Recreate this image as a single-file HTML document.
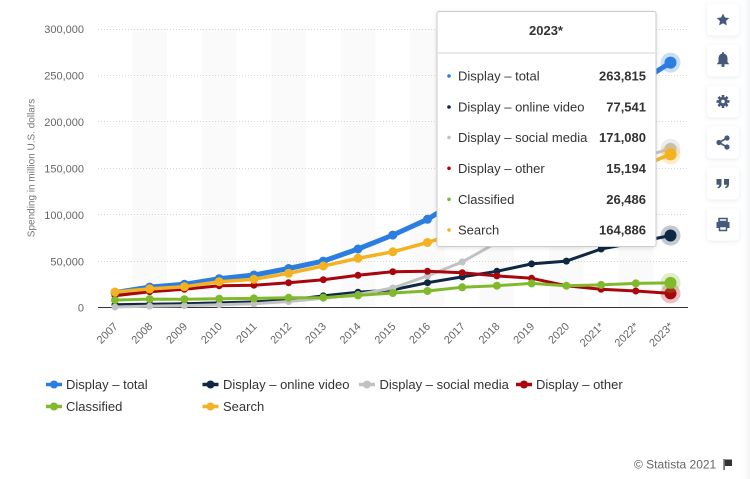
<!DOCTYPE html>
<html><head><meta charset="utf-8">
<style>
html,body{margin:0;padding:0;background:#fff;}
body{width:750px;height:479px;overflow:hidden;font-family:"Liberation Sans",sans-serif;}
svg{display:block;}
</style></head>
<body>
<svg width="750" height="479" viewBox="0 0 750 479" xmlns="http://www.w3.org/2000/svg" font-family="Liberation Sans, sans-serif">
<defs>
<linearGradient id="rg" x1="0" x2="1" y1="0" y2="0">
<stop offset="0" stop-color="#ffffff" stop-opacity="0"/>
<stop offset="1" stop-color="#f3f4f6"/>
</linearGradient>
<filter id="sh" x="-20%" y="-20%" width="140%" height="140%">
<feDropShadow dx="0" dy="1" stdDeviation="2" flood-color="#000" flood-opacity="0.12"/>
</filter>
<filter id="bsh" x="-30%" y="-30%" width="160%" height="160%">
<feDropShadow dx="0" dy="1" stdDeviation="2" flood-color="#5a6a85" flood-opacity="0.15"/>
</filter>
</defs>
<rect x="0" y="0" width="750" height="479" fill="#fff"/>
<rect x="740" y="0" width="10" height="479" fill="url(#rg)"/>

<!-- bands -->
<g fill="#fafafa">
<rect x="132.3" y="29" width="34.7" height="278.5"/>
<rect x="201.8" y="29" width="34.7" height="278.5"/>
<rect x="271.2" y="29" width="34.7" height="278.5"/>
<rect x="340.7" y="29" width="34.7" height="278.5"/>
<rect x="410.1" y="29" width="34.7" height="278.5"/>
<rect x="479.5" y="29" width="34.7" height="278.5"/>
<rect x="549.0" y="29" width="34.7" height="278.5"/>
<rect x="618.4" y="29" width="34.7" height="278.5"/>
</g>

<!-- gridlines -->
<g stroke="#d6d6d6" stroke-width="1" stroke-dasharray="1,2">
<line x1="98" y1="29.5" x2="688" y2="29.5"/>
<line x1="98" y1="75.5" x2="688" y2="75.5"/>
<line x1="98" y1="121.5" x2="688" y2="121.5"/>
<line x1="98" y1="168.5" x2="688" y2="168.5"/>
<line x1="98" y1="214.5" x2="688" y2="214.5"/>
<line x1="98" y1="261.5" x2="688" y2="261.5"/>
</g>
<line x1="98" y1="307.5" x2="688" y2="307.5" stroke="#333" stroke-width="1"/>

<!-- y labels -->
<g font-size="11" fill="#666" text-anchor="end">
<text x="84" y="33">300,000</text>
<text x="84" y="79.5">250,000</text>
<text x="84" y="126">200,000</text>
<text x="84" y="172.5">150,000</text>
<text x="84" y="219">100,000</text>
<text x="84" y="265.5">50,000</text>
<text x="84" y="311.5">0</text>
</g>
<text x="0" y="0" font-size="10" fill="#777" text-anchor="middle" transform="translate(34.5,168) rotate(-90)">Spending in million U.S. dollars</text>

<!-- x labels -->
<g font-size="11" fill="#666" text-anchor="end">
<text transform="translate(118.5,327) rotate(-45)">2007</text>
<text transform="translate(153.2,327) rotate(-45)">2008</text>
<text transform="translate(187.9,327) rotate(-45)">2009</text>
<text transform="translate(222.7,327) rotate(-45)">2010</text>
<text transform="translate(257.4,327) rotate(-45)">2011</text>
<text transform="translate(292.1,327) rotate(-45)">2012</text>
<text transform="translate(326.8,327) rotate(-45)">2013</text>
<text transform="translate(361.5,327) rotate(-45)">2014</text>
<text transform="translate(396.3,327) rotate(-45)">2015</text>
<text transform="translate(431.0,327) rotate(-45)">2016</text>
<text transform="translate(465.7,327) rotate(-45)">2017</text>
<text transform="translate(500.4,327) rotate(-45)">2018</text>
<text transform="translate(535.1,327) rotate(-45)">2019</text>
<text transform="translate(569.9,327) rotate(-45)">2020</text>
<text transform="translate(604.6,327) rotate(-45)">2021*</text>
<text transform="translate(639.3,327) rotate(-45)">2022*</text>
<text transform="translate(674.0,327) rotate(-45)">2023*</text>
</g>

<!-- series -->
<g fill="none" stroke-linejoin="round" stroke-linecap="round">
<polyline stroke="#2a7de1" stroke-width="5" points="115,292.6 149.7,287.1 184.4,284.3 219.2,278.7 253.9,275.0 288.6,268.5 323.3,261.1 358.0,249.0 392.8,235.1 427.5,219.3 462.2,197.9 496.9,177.5 531.6,157.1 566.4,135.8 601.1,109.8 635.8,84.7 670.5,62.6"/>
</g>
<g fill="#2a7de1">
<circle cx="115" cy="292.6" r="4.5"/><circle cx="149.7" cy="287.1" r="4.5"/><circle cx="184.4" cy="284.3" r="4.5"/><circle cx="219.2" cy="278.7" r="4.5"/><circle cx="253.9" cy="275.0" r="4.5"/><circle cx="288.6" cy="268.5" r="4.5"/><circle cx="323.3" cy="261.1" r="4.5"/><circle cx="358.0" cy="249.0" r="4.5"/><circle cx="392.8" cy="235.1" r="4.5"/><circle cx="427.5" cy="219.3" r="4.5"/><circle cx="462.2" cy="197.9" r="4.5"/>
<circle cx="670.5" cy="62.6" r="10" opacity="0.25"/><circle cx="670.5" cy="62.6" r="6"/>
</g>

<g fill="none" stroke-linejoin="round" stroke-linecap="round">
<polyline stroke="#0f2742" stroke-width="3" points="115,304.7 149.7,304.3 184.4,303.8 219.2,302.9 253.9,301.9 288.6,300.1 323.3,295.9 358.0,292.2 392.8,289.9 427.5,282.7 462.2,276.9 496.9,271.3 531.6,263.9 566.4,261.1 601.1,249.0 635.8,242.5 670.5,235.5"/>
</g>
<g fill="#0f2742">
<circle cx="115" cy="304.7" r="3.5"/><circle cx="149.7" cy="304.3" r="3.5"/><circle cx="184.4" cy="303.8" r="3.5"/><circle cx="219.2" cy="302.9" r="3.5"/><circle cx="253.9" cy="301.9" r="3.5"/><circle cx="288.6" cy="300.1" r="3.5"/><circle cx="323.3" cy="295.9" r="3.5"/><circle cx="358.0" cy="292.2" r="3.5"/><circle cx="392.8" cy="289.9" r="3.5"/><circle cx="427.5" cy="282.7" r="3.5"/><circle cx="462.2" cy="276.9" r="3.5"/><circle cx="496.9" cy="271.3" r="3.5"/><circle cx="531.6" cy="263.9" r="3.5"/><circle cx="566.4" cy="261.1" r="3.5"/><circle cx="601.1" cy="249.0" r="3.5"/><circle cx="635.8" cy="242.5" r="3.5"/>
<circle cx="670.5" cy="235.5" r="10" opacity="0.25"/><circle cx="670.5" cy="235.5" r="6"/>
</g>

<g fill="none" stroke-linejoin="round" stroke-linecap="round">
<polyline stroke="#c2c2c2" stroke-width="3" points="115,307.0 149.7,306.1 184.4,305.6 219.2,304.7 253.9,303.8 288.6,301.5 323.3,298.2 358.0,294.5 392.8,288.0 427.5,275.9 462.2,262.0 496.9,242.5 531.6,222.1 566.4,203.5 601.1,182.2 635.8,159.0 670.5,148.7"/>
</g>
<g fill="#c2c2c2">
<circle cx="115" cy="307.0" r="3.5"/><circle cx="149.7" cy="306.1" r="3.5"/><circle cx="184.4" cy="305.6" r="3.5"/><circle cx="219.2" cy="304.7" r="3.5"/><circle cx="253.9" cy="303.8" r="3.5"/><circle cx="288.6" cy="301.5" r="3.5"/><circle cx="323.3" cy="298.2" r="3.5"/><circle cx="358.0" cy="294.5" r="3.5"/><circle cx="392.8" cy="288.0" r="3.5"/><circle cx="427.5" cy="275.9" r="3.5"/><circle cx="462.2" cy="262.0" r="3.5"/>
<circle cx="670.5" cy="148.7" r="10" opacity="0.3"/><circle cx="670.5" cy="148.7" r="6"/>
</g>

<g fill="none" stroke-linejoin="round" stroke-linecap="round">
<polyline stroke="#a8060c" stroke-width="3" points="115,295.7 149.7,291.7 184.4,289.3 219.2,285.7 253.9,285.2 288.6,282.7 323.3,279.7 358.0,275.3 392.8,271.7 427.5,271.3 462.2,272.7 496.9,275.9 531.6,278.3 566.4,285.7 601.1,289.3 635.8,291.0 670.5,293.4"/>
</g>
<g fill="#a8060c">
<circle cx="115" cy="295.7" r="3.5"/><circle cx="149.7" cy="291.7" r="3.5"/><circle cx="184.4" cy="289.3" r="3.5"/><circle cx="219.2" cy="285.7" r="3.5"/><circle cx="253.9" cy="285.2" r="3.5"/><circle cx="288.6" cy="282.7" r="3.5"/><circle cx="323.3" cy="279.7" r="3.5"/><circle cx="358.0" cy="275.3" r="3.5"/><circle cx="392.8" cy="271.7" r="3.5"/><circle cx="427.5" cy="271.3" r="3.5"/><circle cx="462.2" cy="272.7" r="3.5"/><circle cx="496.9" cy="275.9" r="3.5"/><circle cx="531.6" cy="278.3" r="3.5"/><circle cx="566.4" cy="285.7" r="3.5"/><circle cx="601.1" cy="289.3" r="3.5"/><circle cx="635.8" cy="291.0" r="3.5"/>
<circle cx="670.5" cy="293.4" r="10" opacity="0.25"/><circle cx="670.5" cy="293.4" r="6"/>
</g>

<g fill="none" stroke-linejoin="round" stroke-linecap="round">
<polyline stroke="#80b92b" stroke-width="3" points="115,300.1 149.7,299.1 184.4,299.2 219.2,298.7 253.9,298.4 288.6,297.8 323.3,297.6 358.0,295.4 392.8,293.0 427.5,291.0 462.2,287.3 496.9,285.7 531.6,283.4 566.4,285.7 601.1,284.9 635.8,283.4 670.5,282.9"/>
</g>
<g fill="#80b92b">
<circle cx="115" cy="300.1" r="4"/><circle cx="149.7" cy="299.1" r="4"/><circle cx="184.4" cy="299.2" r="4"/><circle cx="219.2" cy="298.7" r="4"/><circle cx="253.9" cy="298.4" r="4"/><circle cx="288.6" cy="297.8" r="4"/><circle cx="323.3" cy="297.6" r="4"/><circle cx="358.0" cy="295.4" r="4"/><circle cx="392.8" cy="293.0" r="4"/><circle cx="427.5" cy="291.0" r="4"/><circle cx="462.2" cy="287.3" r="4"/><circle cx="496.9" cy="285.7" r="4"/><circle cx="531.6" cy="283.4" r="4"/><circle cx="566.4" cy="285.7" r="4"/><circle cx="601.1" cy="284.9" r="4"/><circle cx="635.8" cy="283.4" r="4"/>
<circle cx="670.5" cy="282.9" r="10" opacity="0.25"/><circle cx="670.5" cy="282.9" r="6"/>
</g>

<g fill="none" stroke-linejoin="round" stroke-linecap="round">
<polyline stroke="#f4b223" stroke-width="3.5" points="115,292.0 149.7,288.9 184.4,286.7 219.2,281.7 253.9,279.3 288.6,273.3 323.3,266.0 358.0,258.3 392.8,251.8 427.5,242.5 462.2,231.4 496.9,219.3 531.6,207.2 566.4,196.1 601.1,182.2 635.8,168.3 670.5,154.4"/>
</g>
<g fill="#f4b223">
<circle cx="115" cy="292.0" r="4.5"/><circle cx="149.7" cy="288.9" r="4.5"/><circle cx="184.4" cy="286.7" r="4.5"/><circle cx="219.2" cy="281.7" r="4.5"/><circle cx="253.9" cy="279.3" r="4.5"/><circle cx="288.6" cy="273.3" r="4.5"/><circle cx="323.3" cy="266.0" r="4.5"/><circle cx="358.0" cy="258.3" r="4.5"/><circle cx="392.8" cy="251.8" r="4.5"/><circle cx="427.5" cy="242.5" r="4.5"/><circle cx="462.2" cy="231.4" r="4.5"/>
<circle cx="670.5" cy="154.4" r="10" opacity="0.25"/><circle cx="670.5" cy="154.4" r="6"/>
</g>

<!-- tooltip -->
<g filter="url(#sh)">
<rect x="437" y="11.5" width="219" height="235" rx="2" fill="#fff" stroke="#cccccc" stroke-width="1"/>
</g>
<text x="546" y="35" font-size="13" font-weight="bold" fill="#333" text-anchor="middle">2023*</text>
<rect x="438" y="52" width="217" height="2" fill="#e8e8e8"/>
<g font-size="13" fill="#333">
<circle cx="449" cy="76" r="1.8" fill="#2a7de1"/><text x="458" y="80.5">Display – total</text><text x="646" y="80.5" text-anchor="end" font-weight="bold">263,815</text>
<circle cx="449" cy="107" r="1.8" fill="#0f2742"/><text x="458" y="111.5">Display – online video</text><text x="646" y="111.5" text-anchor="end" font-weight="bold">77,541</text>
<circle cx="449" cy="137.5" r="1.8" fill="#c2c2c2"/><text x="458" y="142">Display – social media</text><text x="646" y="142" text-anchor="end" font-weight="bold">171,080</text>
<circle cx="449" cy="168.3" r="1.8" fill="#a8060c"/><text x="458" y="173">Display – other</text><text x="646" y="173" text-anchor="end" font-weight="bold">15,194</text>
<circle cx="449" cy="199.3" r="1.8" fill="#80b92b"/><text x="458" y="204">Classified</text><text x="646" y="204" text-anchor="end" font-weight="bold">26,486</text>
<circle cx="449" cy="230" r="1.8" fill="#f4b223"/><text x="458" y="234.5">Search</text><text x="646" y="234.5" text-anchor="end" font-weight="bold">164,886</text>
</g>

<!-- legend -->
<g font-size="13" fill="#333">
<line x1="46" y1="384.5" x2="62" y2="384.5" stroke="#2a7de1" stroke-width="3.5"/><circle cx="54" cy="384.5" r="4" fill="#2a7de1"/>
<text x="66" y="389">Display – total</text>
<line x1="202.5" y1="384.5" x2="218.5" y2="384.5" stroke="#0f2742" stroke-width="3.5"/><circle cx="210.5" cy="384.5" r="4" fill="#0f2742"/>
<text x="223" y="389">Display – online video</text>
<line x1="359" y1="384.5" x2="375" y2="384.5" stroke="#c2c2c2" stroke-width="3.5"/><circle cx="367" cy="384.5" r="4" fill="#c2c2c2"/>
<text x="379.5" y="389">Display – social media</text>
<line x1="516" y1="384.5" x2="532" y2="384.5" stroke="#a8060c" stroke-width="3.5"/><circle cx="524" cy="384.5" r="4" fill="#a8060c"/>
<text x="536" y="389">Display – other</text>
<line x1="46" y1="406.5" x2="62" y2="406.5" stroke="#80b92b" stroke-width="3.5"/><circle cx="54" cy="406.5" r="4" fill="#80b92b"/>
<text x="66" y="411">Classified</text>
<line x1="202.5" y1="406.5" x2="218.5" y2="406.5" stroke="#f4b223" stroke-width="3.5"/><circle cx="210.5" cy="406.5" r="4" fill="#f4b223"/>
<text x="223" y="411">Search</text>
</g>

<!-- credits -->
<text x="634" y="468.5" font-size="12" fill="#666">© Statista 2021</text>
<rect x="723.5" y="459" width="1.2" height="11" fill="#333"/>
<path d="M725 459.5 L732 459.5 L732 466 L725 466 Z" fill="#333"/>

<!-- side buttons -->
<g filter="url(#bsh)" fill="#fff">
<rect x="707" y="3.5" width="32" height="32" rx="4"/>
<rect x="707" y="44.5" width="32" height="32" rx="4"/>
<rect x="707" y="85.5" width="32" height="32" rx="4"/>
<rect x="707" y="126.5" width="32" height="32" rx="4"/>
<rect x="707" y="167.5" width="32" height="32" rx="4"/>
<rect x="707" y="208.5" width="32" height="32" rx="4"/>
</g>
<g fill="#45597a">
<polygon points="723,13.5 724.9,17.5 729.3,18 726,21 726.9,25.4 723,23.2 719.1,25.4 720,21 716.7,18 721.1,17.5"/>
<path d="M723 53.5 c-3 0 -4.5 2.3 -4.5 5 v3.5 l-1.8 2.3 h12.6 l-1.8 -2.3 v-3.5 c0 -2.7 -1.5 -5 -4.5 -5 z"/>
<circle cx="723" cy="65.5" r="1.6"/>
<circle cx="723" cy="53" r="1"/>
<circle cx="723" cy="101.5" r="4.6"/>
<g stroke="#45597a" stroke-width="2.6">
<line x1="723" y1="95" x2="723" y2="108"/>
<line x1="716.5" y1="101.5" x2="729.5" y2="101.5"/>
<line x1="718.4" y1="96.9" x2="727.6" y2="106.1"/>
<line x1="727.6" y1="96.9" x2="718.4" y2="106.1"/>
</g>
<circle cx="723" cy="101.5" r="1.8" fill="#fff"/>
<g stroke="#45597a" stroke-width="1.6">
<line x1="719" y1="142.5" x2="727" y2="138"/>
<line x1="719" y1="142.5" x2="727" y2="147"/>
</g>
<circle cx="719" cy="142.5" r="2.6"/>
<circle cx="727" cy="138" r="2.6"/>
<circle cx="727" cy="147" r="2.6"/>
<path d="M716.5 179 h5 v5 c0 2.5 -1.2 3.8 -3.6 4.3 l-0.5 -1.3 c1.3 -0.4 1.9 -1.1 1.9 -2.3 h-2.8 z"/>
<path d="M724 179 h5 v5 c0 2.5 -1.2 3.8 -3.6 4.3 l-0.5 -1.3 c1.3 -0.4 1.9 -1.1 1.9 -2.3 h-2.8 z"/>
<path d="M719 218.5 h8 v3 h-8 z" fill="none" stroke="#45597a" stroke-width="1.6"/>
<path d="M716.5 222 h13 v6 h-2.5 v-2 h-8 v2 h-2.5 z"/>
<path d="M719.5 226.5 h7 v4 h-7 z" fill="none" stroke="#45597a" stroke-width="1.5"/>
</g>
</svg>
</body></html>
